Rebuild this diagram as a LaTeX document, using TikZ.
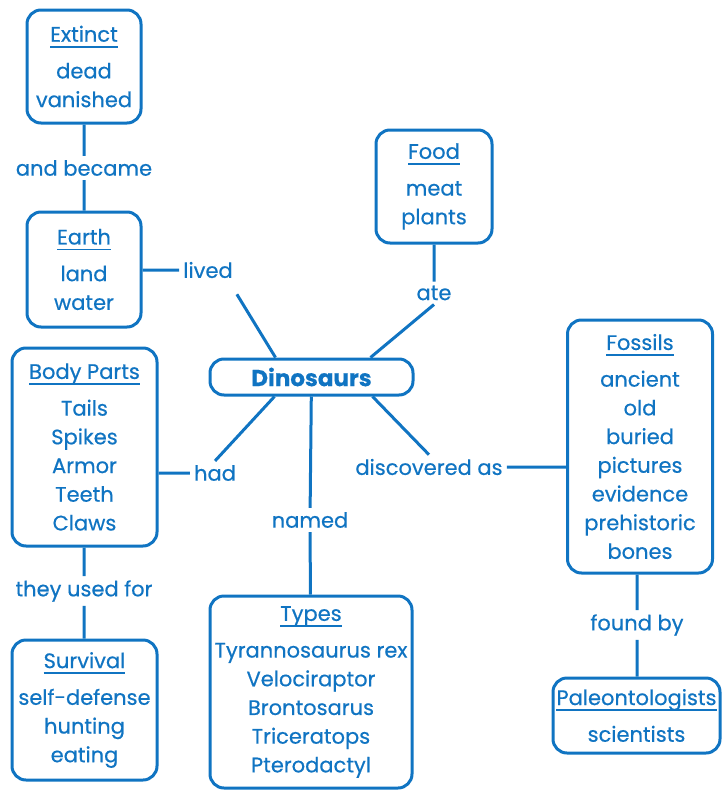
\documentclass[tikz,border=0pt]{standalone}
\usepackage{fontspec}
\setmainfont{Poppins}[FakeBold=0.5]
\usetikzlibrary{positioning}
\definecolor{mapblue}{RGB}{16,116,194}
\newcommand{\mapfont}{\fontsize{21}{28.7}\selectfont}
\newcommand{\heading}[1]{\setbox0\hbox{#1}\rlap{\rule[-6pt]{\wd0}{1.8pt}}\box0}
\tikzset{%
conceptbox/.style={draw=mapblue,line width=3pt,rounded corners=14pt,text=mapblue,align=center,font=\mapfont,inner sep=0pt},
linkword/.style={text=mapblue,font=\mapfont,inner sep=4pt},
connector/.style={draw=mapblue,line width=3pt}
}
\begin{document}
\begin{tikzpicture}[x=1pt,y=-1pt]
  \useasboundingbox (0,0) rectangle (725,790);

  % concept boxes
  \node[conceptbox,minimum width=114pt,minimum height=113pt] (extinct) at (84,66.5) {\heading{Extinct}\\[8pt]dead\\vanished};
  \node[conceptbox,minimum width=114pt,minimum height=115pt] (earth) at (84,269.5) {\heading{Earth}\\[8pt]land\\water};
  \node[conceptbox,minimum width=116pt,minimum height=113pt] (food) at (434,186.5) {\heading{Food}\\[8pt]meat\\plants};
  \node[conceptbox,minimum width=203pt,minimum height=36pt,font=\fontsize{23}{28}\selectfont\bfseries] (dino) at (311.5,377) {Dinosaurs};
  \node[conceptbox,minimum width=145pt,minimum height=198pt] (body) at (84.5,447) {\heading{Body Parts}\\[8pt]Tails\\Spikes\\Armor\\Teeth\\Claws};
  \node[conceptbox,minimum width=145pt,minimum height=140pt] (survival) at (84.5,710) {\heading{Survival}\\[8pt]self-defense\\hunting\\eating};
  \node[conceptbox,minimum width=202pt,minimum height=192pt] (types) at (311,692) {\heading{Types}\\[8pt]Tyrannosaurus rex\\Velociraptor\\Brontosarus\\Triceratops\\Pterodactyl};
  \node[conceptbox,minimum width=145pt,minimum height=253pt] (fossils) at (640,446.5) {\heading{Fossils}\\[8pt]ancient\\old\\buried\\pictures\\evidence\\prehistoric\\bones};
  \node[conceptbox,minimum width=167pt,minimum height=75pt] (paleo) at (636.5,715.5) {\heading{Paleontologists}\\[8pt]scientists};

  % linking words
  \node[linkword] (became) at (84,168) {and became};
  \node[linkword] (lived) at (208,270) {lived};
  \node[linkword] (ate) at (434,293) {ate};
  \node[linkword] (had) at (215,473) {had};
  \node[linkword] (named) at (310,520) {named};
  \node[linkword] (discovered) at (429,467) {discovered as};
  \node[linkword] (usedfor) at (84,591) {they used for};
  \node[linkword] (foundby) at (637,625) {found by};

  % connectors
  \path[connector] (extinct) -- (became)
                   (became) -- (earth)
                   (earth.east |- lived.west) -- (lived.west)
                   ([yshift=-12pt]lived.south east) -- ([xshift=-36pt]dino.north)
                   (food) -- (ate)
                   (ate.south) -- ([xshift=59pt]dino.north)
                   ([xshift=-37pt]dino.south) -- (had.north)
                   (had.west) -- (had.west -| body.east)
                   (dino) -- (named)
                   (named) -- (types)
                   ([xshift=61pt]dino.south) -- (discovered.north)
                   (discovered.east) -- (discovered.east -| fossils.west)
                   (body) -- (usedfor)
                   (usedfor) -- (survival)
                   (foundby |- fossils.south) -- (foundby)
                   (foundby) -- (foundby |- paleo.north);
\end{tikzpicture}
\end{document}
